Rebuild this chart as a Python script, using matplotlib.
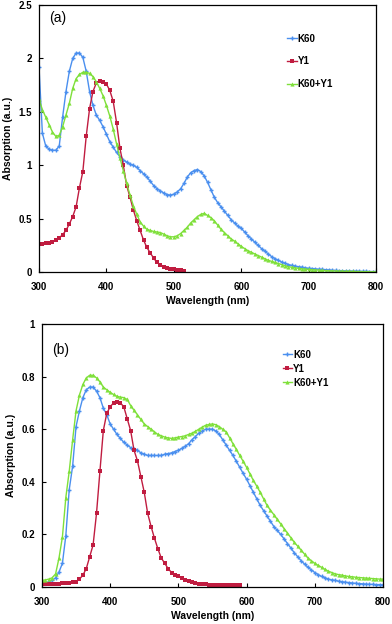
import numpy as np
import matplotlib
matplotlib.use("Agg")
import matplotlib.pyplot as plt

# =====================================================
# DATA  (absorption spectra)
# =====================================================
wl_full = np.arange(300, 805, 5)

# panel (a)
k60_a = [1.92, 1.30, 1.18, 1.15, 1.14, 1.14, 1.18, 1.45, 1.69, 1.88,
         2.00, 2.05, 2.05, 2.01, 1.88, 1.69, 1.56, 1.47, 1.42, 1.36,
         1.29, 1.22, 1.17, 1.12, 1.08, 1.05, 1.03, 1.01, 1.00, 0.98,
         0.95, 0.92, 0.89, 0.85, 0.81, 0.78, 0.76, 0.74, 0.725, 0.72,
         0.73, 0.75, 0.78, 0.83, 0.89, 0.93, 0.95, 0.96, 0.94, 0.90,
         0.84, 0.77, 0.70, 0.65, 0.61, 0.57, 0.53, 0.49, 0.46, 0.43,
         0.41, 0.375, 0.34, 0.31, 0.28, 0.25, 0.22, 0.195, 0.17, 0.145,
         0.125, 0.11, 0.094, 0.082, 0.07, 0.062, 0.055, 0.05, 0.045, 0.04,
         0.035, 0.033, 0.03, 0.027, 0.025, 0.022, 0.02, 0.017, 0.015, 0.013,
         0.012, 0.011, 0.01, 0.009, 0.008, 0.007, 0.006, 0.006, 0.005, 0.005,
         0.005]
mix_a = [1.62, 1.52, 1.45, 1.38, 1.31, 1.27, 1.28, 1.36, 1.47, 1.58,
         1.72, 1.81, 1.85, 1.87, 1.87, 1.86, 1.83, 1.78, 1.72, 1.65,
         1.56, 1.46, 1.34, 1.20, 1.07, 0.95, 0.83, 0.72, 0.62, 0.54,
         0.47, 0.43, 0.40, 0.39, 0.38, 0.375, 0.37, 0.355, 0.34, 0.33,
         0.33, 0.34, 0.36, 0.39, 0.42, 0.46, 0.49, 0.52, 0.54, 0.55,
         0.53, 0.51, 0.48, 0.44, 0.40, 0.37, 0.34, 0.31, 0.29, 0.265,
         0.24, 0.22, 0.20, 0.185, 0.17, 0.155, 0.14, 0.125, 0.11, 0.10,
         0.09, 0.08, 0.07, 0.06, 0.05, 0.045, 0.04, 0.035, 0.03, 0.028,
         0.025, 0.022, 0.02, 0.018, 0.015, 0.013, 0.012, 0.011, 0.01, 0.009,
         0.008, 0.007, 0.007, 0.006, 0.005, 0.005, 0.004, 0.004, 0.003, 0.003,
         0.003]
wl_y1_a = np.arange(300, 520, 5)
y1_a = [0.26, 0.26, 0.27, 0.27, 0.28, 0.30, 0.32, 0.35, 0.39, 0.45,
        0.52, 0.61, 0.79, 0.94, 1.27, 1.53, 1.69, 1.77, 1.79, 1.78,
        1.76, 1.70, 1.60, 1.40, 1.16, 1.00, 0.81, 0.70, 0.58, 0.48,
        0.39, 0.30, 0.23, 0.18, 0.13, 0.09, 0.07, 0.05, 0.04, 0.03,
        0.025, 0.02, 0.015, 0.012]

# panel (b)
k60_b = [0.015, 0.016, 0.02, 0.025, 0.035, 0.057, 0.09, 0.195, 0.37, 0.46,
         0.61, 0.67, 0.72, 0.75, 0.76, 0.76, 0.745, 0.72, 0.68, 0.655,
         0.62, 0.60, 0.58, 0.565, 0.55, 0.54, 0.53, 0.525, 0.52, 0.51,
         0.505, 0.50, 0.50, 0.50, 0.50, 0.50, 0.505, 0.507, 0.51, 0.515,
         0.52, 0.527, 0.535, 0.545, 0.56, 0.572, 0.585, 0.593, 0.60, 0.60,
         0.60, 0.593, 0.58, 0.56, 0.54, 0.52, 0.50, 0.478, 0.455, 0.432,
         0.41, 0.385, 0.36, 0.335, 0.31, 0.29, 0.27, 0.25, 0.23, 0.215,
         0.20, 0.183, 0.165, 0.148, 0.13, 0.115, 0.10, 0.087, 0.075, 0.065,
         0.055, 0.047, 0.04, 0.035, 0.03, 0.027, 0.025, 0.022, 0.02, 0.018,
         0.017, 0.015, 0.014, 0.013, 0.012, 0.011, 0.01, 0.01, 0.009, 0.009,
         0.008]
mix_b = [0.025, 0.027, 0.03, 0.035, 0.05, 0.11, 0.19, 0.34, 0.44, 0.56,
         0.67, 0.73, 0.77, 0.795, 0.805, 0.805, 0.795, 0.78, 0.76, 0.75,
         0.74, 0.732, 0.725, 0.722, 0.72, 0.713, 0.69, 0.672, 0.655, 0.637,
         0.62, 0.61, 0.60, 0.59, 0.58, 0.575, 0.57, 0.567, 0.565, 0.567,
         0.57, 0.572, 0.575, 0.58, 0.585, 0.592, 0.60, 0.608, 0.615, 0.618,
         0.62, 0.617, 0.61, 0.60, 0.59, 0.568, 0.545, 0.523, 0.50, 0.478,
         0.455, 0.43, 0.405, 0.383, 0.36, 0.335, 0.31, 0.292, 0.275, 0.257,
         0.24, 0.222, 0.205, 0.187, 0.17, 0.155, 0.14, 0.125, 0.11, 0.10,
         0.09, 0.082, 0.075, 0.067, 0.06, 0.055, 0.05, 0.047, 0.045, 0.042,
         0.04, 0.039, 0.037, 0.036, 0.035, 0.034, 0.033, 0.032, 0.031, 0.03,
         0.03]
wl_y1_b = np.arange(300, 595, 5)
y1_b = [0.012, 0.012, 0.012, 0.013, 0.013, 0.013, 0.014, 0.014, 0.015, 0.018,
        0.02, 0.03, 0.045, 0.07, 0.115, 0.16, 0.28, 0.44, 0.595, 0.66,
        0.685, 0.70, 0.705, 0.70, 0.685, 0.64, 0.595, 0.52, 0.48, 0.42,
        0.36, 0.28, 0.23, 0.185, 0.145, 0.11, 0.09, 0.07, 0.055, 0.045,
        0.04, 0.033, 0.027, 0.022, 0.018, 0.015, 0.013, 0.011, 0.01, 0.009,
        0.008, 0.007, 0.007, 0.006, 0.006, 0.006, 0.006, 0.006, 0.006]

BLUE = "#4a8fef"
RED = "#c01c40"
GREEN = "#7fe03a"

# =====================================================
# PLOT
# =====================================================
plt.rcParams["font.family"] = ["Liberation Sans", "DejaVu Sans"]

fig = plt.figure(figsize=(3.92, 6.24), dpi=100)
ax_a = fig.add_axes([0.0995, 0.564, 0.860, 0.428])
ax_b = fig.add_axes([0.107, 0.0593, 0.870, 0.4215])


def draw(ax, k60, y1_wl, y1, mix):
    ax.plot(wl_full, k60, color=BLUE, lw=1.0, marker="+", ms=3.5, mew=1.0,
            label="K60")
    ax.plot(y1_wl, y1, color=RED, lw=1.0, marker="s", ms=3, mew=0,
            label="Y1")
    ax.plot(wl_full, mix, color=GREEN, lw=1.0, marker="^", ms=3, mew=0,
            label="K60+Y1")
    ax.set_xlim(300, 800)
    ax.set_xticks([300, 400, 500, 600, 700, 800])
    ax.set_xlabel("Wavelength (nm)", fontsize=7.5, fontweight="bold",
                  labelpad=3)
    ax.set_ylabel("Absorption (a.u.)", fontsize=7.5, fontweight="bold",
                  labelpad=4)
    ax.tick_params(direction="in", length=3, width=0.8, labelsize=7)
    ax.tick_params(axis="x", pad=7)
    ax.tick_params(axis="y", pad=5)
    for lab in ax.get_xticklabels() + ax.get_yticklabels():
        lab.set_fontweight("bold")
    for s in ax.spines.values():
        s.set_linewidth(0.9)


draw(ax_a, k60_a, wl_y1_a, y1_a, mix_a)
ax_a.set_ylim(0, 2.5)
ax_a.set_yticks([0, 0.5, 1, 1.5, 2, 2.5])
ax_a.set_yticklabels(["0", "0.5", "1", "1.5", "2", "2.5"])
ax_a.text(0.03, 0.95, "(a)", transform=ax_a.transAxes, fontsize=10,
          va="center", ha="left")
ax_a.legend(loc="upper left", bbox_to_anchor=(0.71, 0.925), frameon=False,
            handlelength=1.0, handletextpad=0.1, labelspacing=1.3,
            prop={"size": 7, "weight": "bold"})

draw(ax_b, k60_b, wl_y1_b, y1_b, mix_b)
ax_b.set_ylim(0, 1)
ax_b.set_yticks([0, 0.2, 0.4, 0.6, 0.8, 1])
ax_b.set_yticklabels(["0", "0.2", "0.4", "0.6", "0.8", "1"])
ax_b.text(0.03, 0.9, "(b)", transform=ax_b.transAxes, fontsize=10,
          va="center", ha="left")
ax_b.legend(loc="upper left", bbox_to_anchor=(0.68, 0.935), frameon=False,
            handlelength=1.0, handletextpad=0.1, labelspacing=0.4,
            prop={"size": 7, "weight": "bold"})

fig.savefig("out.png", dpi=100)
